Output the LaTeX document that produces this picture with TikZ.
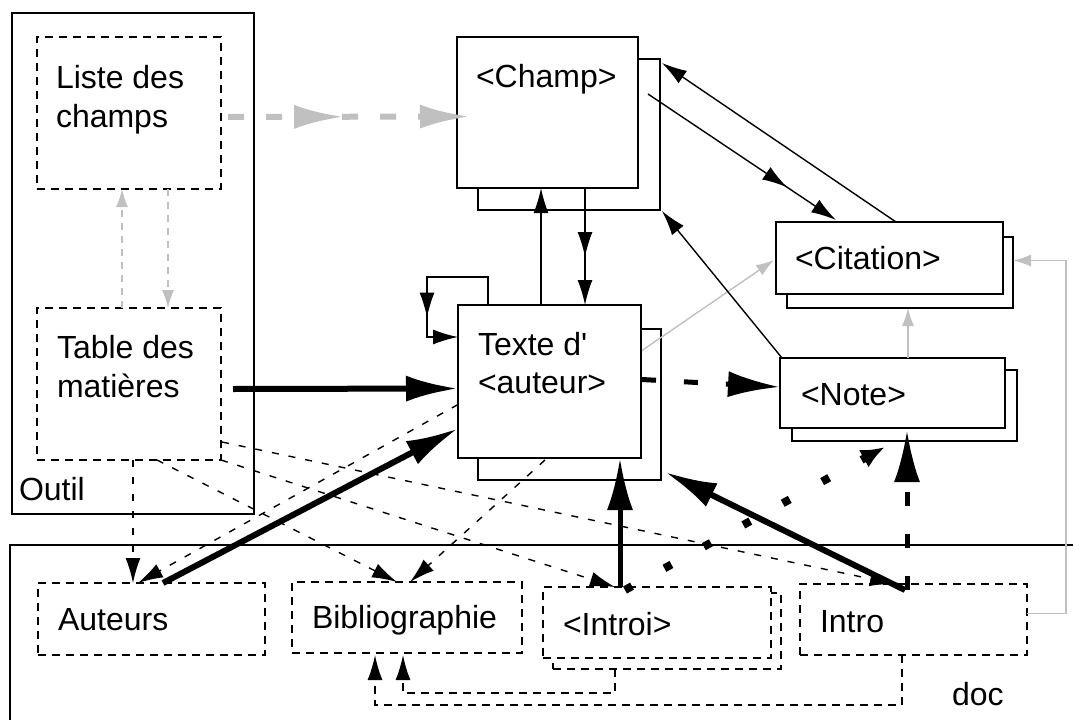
\documentclass[tikz,border=0pt]{standalone}
\usepackage{fontspec}
\setmainfont{Liberation Sans}
\usetikzlibrary{arrows.meta,calc,decorations.markings}
\definecolor{lgray}{RGB}{192,192,192}
\tikzset{
  smallT/.tip={Latex[length=25pt,width=15pt]},
  grayT/.tip={Latex[length=18pt,width=12pt]},
  gbigT/.tip={Latex[length=50pt,width=24pt]},
  bigT/.tip={Latex[length=52pt,width=26pt]},
  dotT/.tip={Latex[length=24pt,width=20pt]},
  box/.style={draw, line width=1.8pt, fill=white, inner sep=0pt, outer sep=0pt, anchor=north west},
  dbox/.style={box, dash pattern=on 8pt off 6pt},
  frm/.style={line width=1.8pt},
  lbl/.style={inner sep=0pt, outer sep=0pt, anchor=base west, font=\fontsize{32}{38}\selectfont},
  conn/.style={line width=1.4pt, -smallT},
  dconn/.style={conn, dash pattern=on 7pt off 10pt},
  bconn/.style={line width=1.6pt, dash pattern=on 8pt off 6pt, -smallT},
  gconn/.style={line width=1.4pt, color=lgray, -grayT},
  gdconn/.style={gconn, dash pattern=on 7pt off 6pt},
  gheavy/.style={line width=6pt, color=lgray, dash pattern=on 16pt off 22pt, -gbigT},
  heavy/.style={line width=6pt, -bigT},
  hdash/.style={line width=5pt, dash pattern=on 14pt off 28pt, -bigT},
  hdot/.style={line width=8pt, dash pattern=on 8pt off 37pt, -dotT},
  midtip/.style={postaction=decorate, decoration={markings, mark=at position #1 with {\arrow{smallT}}}},
  gmidtip/.style={postaction=decorate, decoration={markings, mark=at position #1 with {\arrow{gbigT}}}},
}
\begin{document}
\begin{tikzpicture}[x=1pt,y=-1pt]
\useasboundingbox (0,0) rectangle (1073,720);
\fill[white] (0,0) rectangle (1073,720);

% frames
\node[box, fill=none, minimum width=242pt, minimum height=501pt] (outil) at (12,13) {};
\draw[frm] (1073,545) coordinate (docR) -- (10,545) coordinate (docTL) -- (10,720) coordinate (docB);

% dashed boxes in Outil
\node[dbox, minimum width=184pt, minimum height=152pt] (liste) at (37,37) {};
\node[dbox, minimum width=184pt, minimum height=152pt] (table) at (37,308) {};

% shadow boxes
\node[box, minimum width=182pt, minimum height=151pt] (champS) at (478,59) {};
\node[box, minimum width=183pt, minimum height=151pt] (texteS) at (478,329) {};
\node[box, minimum width=226pt, minimum height=71pt] (citS) at (787,237) {};
\node[box, minimum width=225pt, minimum height=71pt] (noteS) at (792,370) {};
\node[dbox, minimum width=228pt, minimum height=76pt] (introiS) at (553,593) {};

% front boxes
\node[box, minimum width=181pt, minimum height=151pt] (champ) at (457,37) {};
\node[box, minimum width=183pt, minimum height=153pt] (texte) at (458,305) {};
\node[box, minimum width=227pt, minimum height=72pt] (cit) at (776,222) {};
\node[box, minimum width=225pt, minimum height=70pt] (note) at (780,358) {};
\node[dbox, minimum width=227pt, minimum height=72pt] (auteurs) at (38,583) {};
\node[dbox, minimum width=230pt, minimum height=71pt] (biblio) at (292,582) {};
\node[dbox, minimum width=228pt, minimum height=71pt] (introi) at (543,587) {};
\node[dbox, minimum width=227pt, minimum height=71pt] (intro) at (800,584) {};

% labels
\node[lbl] (listeT1) at (56,88) {Liste des};
\node[lbl] (listeT2) at (56,127) {champs};
\node[lbl] (tableT1) at (57,358) {Table des};
\node[lbl] (tableT2) at (57,397) {matières};
\node[lbl] (outilT) at (19,500) {Outil};
\node[lbl] (champT) at (476,87) {<Champ>};
\node[lbl] (texteT1) at (478,355) {Texte d\textquotesingle};
\node[lbl] (texteT2) at (478,393) {<auteur>};
\node[lbl] (citT) at (795,269) {<Citation>};
\node[lbl] (noteT) at (801,405) {<Note>};
\node[lbl] (auteursT) at (58,630) {Auteurs};
\node[lbl] (biblioT) at (312,628) {Bibliographie};
\node[lbl] (introiT) at (563,635) {<Introi>};
\node[lbl] (introT) at (820,632) {Intro};
\node[lbl] (docT) at (952,705) {doc};

% gray connectors
\draw[gheavy, gmidtip=0.48] ($(liste.east)+(7,4)$) -- ($(champ.west)+(13,4)$);
\draw[gdconn] ($(table.north west)+(85,0)$) -- ($(liste.south west)+(85,0)$);
\draw[gdconn] ($(liste.south west)+(131,0)$) -- ($(table.north west)+(131,0)$);
\draw[gconn] ($(texte.east)+(1,-31)$) -- ($(cit.west)+(-2,2)$);
\draw[gconn] ($(note.north west)+(128,0)$) -- ($(citS.south west)+(121,0)$);
\draw[gconn] ($(intro.east)+(0,-6)$) -- ++(39,0) |- ($(citS.east)+(0,-12)$);

% thin black connectors
\draw[conn, midtip=0.72] ($(texte.north west)+(30,0)$) -- ++(0,-28) -- ++(-61,0) -- ++(0,60) -- ($(texte.north west)+(0,32)$);
\draw[conn] ($(texte.north west)+(83,0)$) -- ($(champ.south west)+(84,0)$);
\draw[conn, midtip=0.59] ($(champ.south west)+(128,0)$) -- ($(texte.north west)+(127,0)$);
\draw[conn, midtip=0.74] ($(champ.north east)+(10,57)$) -- ($(cit.north west)+(60,-2)$);
\draw[conn] ($(cit.north west)+(120,0)$) -- ($(champS.north east)+(2,4)$);
\draw[conn] ($(note.north west)+(2,0)$) -- ($(champS.south east)+(2,1)$);

% thin dashed connectors
\draw[dconn] ($(texte.west)+(0,23)$) -- ($(auteurs.north west)+(100,0)$);
\draw[dconn] ($(table.south west)+(96,0)$) -- ($(auteurs.north west)+(95,0)$);
\draw[dconn] ($(table.south west)+(120,0)$) -- ($(biblio.north west)+(105,0)$);
\draw[dconn] (table.south east) -- ($(introi.north west)+(72,0)$);
\draw[dconn] ($(table.east)+(1,58)$) -- ($(intro.north west)+(95,0)$);
\draw[dconn] ($(texte.south west)+(87,2)$) -- ($(biblio.north west)+(118,0)$);
\draw[bconn] ($(introiS.south west)+(62,0)$) -- ++(0,24) -| ($(biblio.south west)+(111,2)$);
\draw[bconn] ($(intro.south west)+(102,0)$) -- ++(0,50) -| ($(biblio.south west)+(83,2)$);

% heavy connectors
\draw[heavy] ($(table.east)+(12,5)$) -- ($(texte.west)+(0,7)$);
\draw[heavy] ($(auteurs.north west)+(125,0)$) -- ($(texte.west)+(0,47)$);
\draw[heavy, line width=5pt] ($(introi.north west)+(77,0)$) -- ($(texte.south west)+(162,0)$);
\draw[heavy] ($(intro.north west)+(105,6)$) -- ($(texteS.south east)+(4,-8)$);
\draw[hdash] ($(texte.east)+(1,-2)$) -- ($(note.west)+(0,-6)$);
\draw[hdash] ($(intro.north west)+(107,6)$) -- ($(note.south west)+(127,2)$);
\draw[hdot] ($(introi.north west)+(82,3)$) -- ($(noteS.south west)+(93,6)$);
\end{tikzpicture}
\end{document}
